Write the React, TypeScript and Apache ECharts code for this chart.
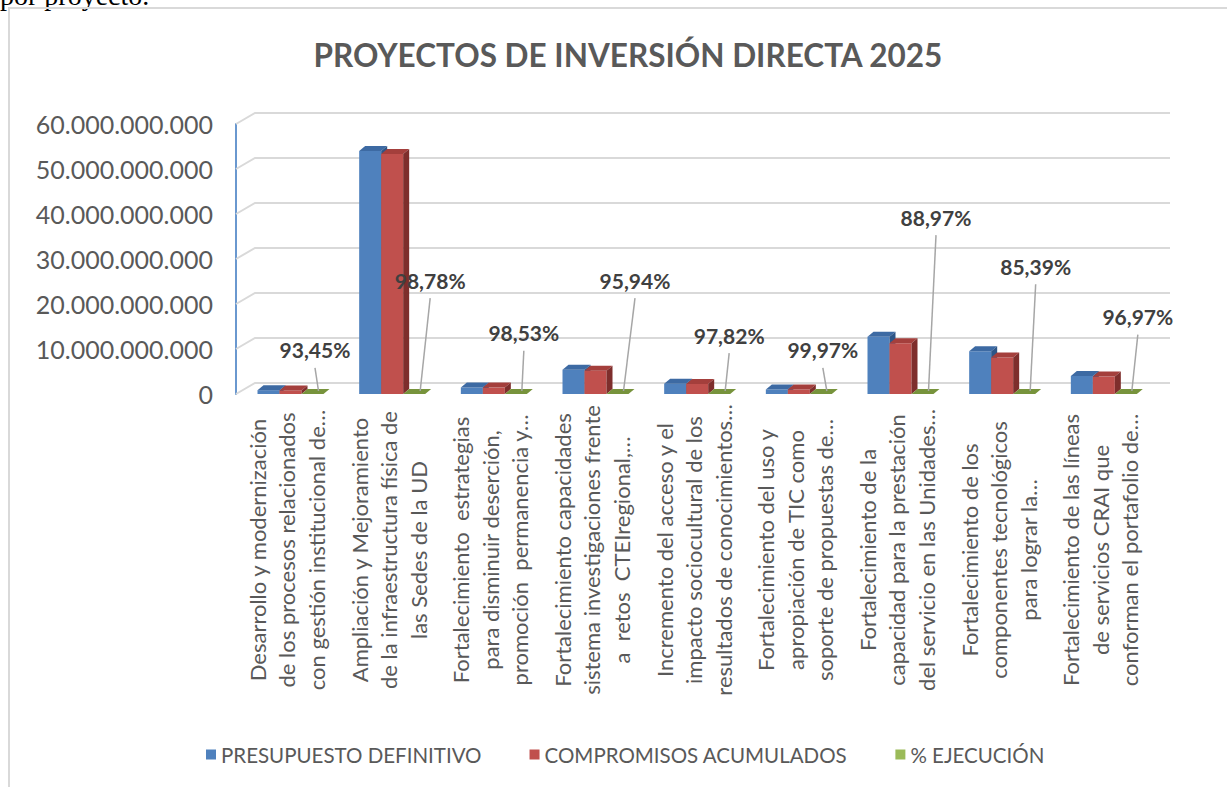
import React, { useEffect, useRef } from "react";
import * as echarts from "echarts";

const categories = [
  "Desarrollo y modernización\nde los procesos relacionados\ncon gestión institucional de…",
  "Ampliación y Mejoramiento\nde la infraestructura física de\nlas Sedes de la UD",
  "Fortalecimiento  estrategias\npara disminuir deserción,\npromoción  permanencia y…",
  "Fortalecimiento capacidades\nsistema investigaciones frente\na  retos  CTEIregional,…",
  "Incremento del acceso y el\nimpacto sociocultural de los\nresultados de conocimientos…",
  "Fortalecimiento del uso y\napropiación de TIC como\nsoporte de propuestas de…",
  "Fortalecimiento de la\ncapacidad para la prestación\ndel servicio en las Unidades…",
  "Fortalecimiento de los\ncomponentes tecnológicos\npara lograr la…",
  "Fortalecimiento de las líneas\nde servicios CRAI que\nconforman el portafolio de…",
];

const presupuestoDefinitivo = [850000000, 54000000000, 1450000000, 5400000000, 2300000000, 1000000000, 12700000000, 9500000000, 4000000000];
const compromisosAcumulados = [794000000, 53340000000, 1429000000, 5181000000, 2250000000, 999700000, 11299000000, 8112000000, 3879000000];
const porcentajeEjecucion = [93.45, 98.78, 98.53, 95.94, 97.82, 99.97, 88.97, 85.39, 96.97];
const yTickValues = [0, 10000000000, 20000000000, 30000000000, 40000000000, 50000000000, 60000000000];

// manual placement of the % labels (as in the original chart): height on the value axis, horizontal shift in px
const pctLabelHeight = [9.8e9, 25.3e9, 13.6e9, 25.3e9, 13.1e9, 9.8e9, 39.3e9, 28.4e9, 17.2e9];
const pctLabelShift = [-3.5, 10, 2, 11.5, 4, -4, 7.5, 5.5, 6];

const SERIES_NAMES = ["PRESUPUESTO DEFINITIVO", "COMPROMISOS ACUMULADOS", "% EJECUCIÓN"];
const FACE_COLORS = [
  { front: "#4F81BD", top: "#3D6AA3", side: "#2E5687" },
  { front: "#C0504D", top: "#A43F3C", side: "#7E2E2C" },
  { front: "#9BBB59", top: "#77933C", side: "#5F7830" },
];
const GAP_FRAC = 0.2115;
const BAR_FRAC = 0.2164;
const DEPTH = [6, -5];
const WALL = [19, -11];
const FONT = "Lato, 'Open Sans', sans-serif";

const fmtThousands = (v: number) => String(Math.round(v)).replace(/\B(?=(\d{3})+(?!\d))/g, ".");
const fmtPct = (v: number) => v.toFixed(2).replace(".", ",") + "%";

function barRenderer(idx: number) {
  const c = FACE_COLORS[idx];
  return (params: any, api: any) => {
    const cat = api.value(0);
    const val = api.value(1);
    const [cx, yTop] = api.coord([cat, val]);
    const yBase = api.coord([cat, 0])[1];
    const band = api.size([1, 0])[0];
    const w = band * BAR_FRAC;
    const x0 = cx - band / 2 + band * GAP_FRAC + idx * w;
    const [dx, dy] = DEPTH;
    const children: any[] = [
      { type: "rect", shape: { x: x0, y: yTop, width: w, height: Math.max(0, yBase - yTop) }, style: { fill: c.front } },
      {
        type: "polygon",
        shape: { points: [[x0, yTop], [x0 + dx, yTop + dy], [x0 + w + dx, yTop + dy], [x0 + w, yTop]] },
        style: { fill: c.top },
      },
      {
        type: "polygon",
        shape: { points: [[x0 + w, yTop], [x0 + w + dx, yTop + dy], [x0 + w + dx, yBase + dy], [x0 + w, yBase]] },
        style: { fill: c.side },
      },
    ];
    if (idx === 2) {
      const i = params.dataIndex;
      const bx = x0 + w / 2 + dx;
      const by = yBase + dy * 0.6;
      const lx = bx + pctLabelShift[i];
      const ly = api.coord([cat, pctLabelHeight[i]])[1];
      children.push({
        type: "line",
        shape: { x1: lx, y1: ly + 18, x2: bx, y2: by },
        style: { stroke: "#A6A6A6", lineWidth: 1.5 },
      });
      children.push({
        type: "text",
        x: lx,
        y: ly,
        style: {
          text: fmtPct(porcentajeEjecucion[i]),
          fill: "#404040",
          font: `bold 21px ${FONT}`,
          textAlign: "center",
          textVerticalAlign: "middle",
        },
      });
    }
    return { type: "group", children };
  };
}

export default function App() {
  const ref = useRef<HTMLDivElement>(null);
  useEffect(() => {
    if (!ref.current) return;
    const chart = echarts.init(ref.current, undefined, { renderer: "svg" });
    const seriesValues = [
      presupuestoDefinitivo,
      compromisosAcumulados,
      porcentajeEjecucion.map((p) => p / 100),
    ];
    chart.setOption({
      animation: false,
      title: {
        text: "PROYECTOS DE INVERSIÓN DIRECTA 2025",
        left: 623,
        textAlign: "center",
        top: 34,
        textStyle: { fontFamily: FONT, fontWeight: "bold", fontSize: 31.5, color: "#595959" },
      },
      legend: {
        data: SERIES_NAMES,
        left: 201,
        top: 739,
        icon: "rect",
        itemWidth: 10,
        itemHeight: 10,
        itemGap: 48,
        textStyle: { fontFamily: FONT, fontSize: 20.5, color: "#595959" },
      },
      grid: { left: 236, right: 76, top: 124, bottom: 393, containLabel: false },
      xAxis: {
        type: "category",
        data: categories,
        axisLine: { show: false },
        axisTick: { show: false },
        axisLabel: {
          interval: 0,
          rotate: 90,
          align: "center",
          verticalAlign: "middle",
          margin: 156,
          fontFamily: FONT,
          fontSize: 22,
          lineHeight: 29.5,
          color: "#595959",
        },
      },
      yAxis: {
        type: "value",
        min: 0,
        max: 60000000000,
        interval: 10000000000,
        splitLine: { show: false },
        axisTick: { show: false },
        axisLine: { show: true, lineStyle: { color: "#6A98CF", width: 2 } },
        axisLabel: {
          margin: 23,
          fontFamily: FONT,
          fontSize: 25,
          padding: [6, 0, 0, 0],
          color: "#595959",
          formatter: (v: number) => fmtThousands(v),
        },
      },
      series: [
        {
          name: "gridlines",
          type: "custom",
          silent: true,
          data: yTickValues.map((v) => [0, v]),
          renderItem: (params: any, api: any) => {
            const y = api.coord([0, api.value(1)])[1];
            const cs = params.coordSys;
            return {
              type: "polyline",
              shape: {
                points: [
                  [cs.x, y],
                  [cs.x + WALL[0], y + WALL[1]],
                  [cs.x + cs.width + WALL[0], y + WALL[1]],
                ],
              },
              style: { stroke: "#D9D9D9", lineWidth: 2, fill: "none" },
            };
          },
        },
        ...SERIES_NAMES.map((name, idx) => ({
          name,
          type: "custom",
          itemStyle: { color: FACE_COLORS[idx].front },
          encode: { x: 0, y: 1 },
          data: seriesValues[idx].map((v, i) => [i, v]),
          renderItem: barRenderer(idx),
        })),
      ],
    });
    return () => chart.dispose();
  }, []);

  return (
    <div style={{ position: "fixed", left: 0, top: 0, width: 1227, height: 787, overflow: "hidden", background: "#fff" }}>
      <div
        style={{
          position: "absolute",
          left: 0,
          top: -18,
          fontFamily: "'Liberation Serif', 'Times New Roman', serif",
          fontSize: 28,
          lineHeight: "28px",
          color: "#000",
          whiteSpace: "nowrap",
        }}
      >
        por proyecto.
      </div>
      <div
        style={{
          position: "absolute",
          left: 8,
          top: 7,
          width: 1260,
          height: 820,
          border: "2px solid #D9D9D9",
          boxSizing: "border-box",
        }}
      />
      <div ref={ref} style={{ position: "absolute", left: 0, top: 0, width: 1227, height: 787 }} />
    </div>
  );
}
